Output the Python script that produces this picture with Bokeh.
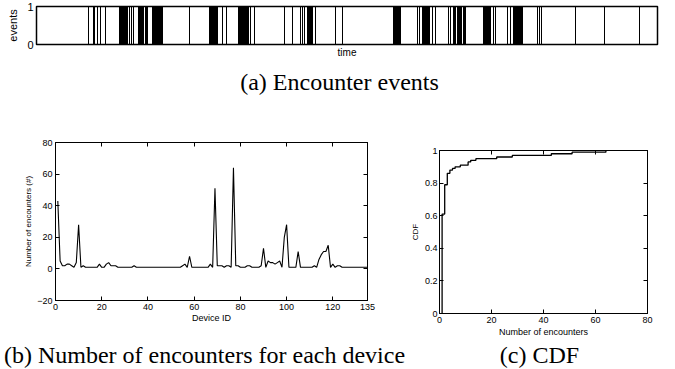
from bokeh.plotting import figure
from bokeh.models import FixedTicker, LinearAxis, Range1d, Label
from bokeh.layouts import column, row
from bokeh.embed import file_html
from bokeh.resources import INLINE

# ---------------- data ----------------
# (a) encounter event times (arbitrary time units)
event_times = [52, 57, 58, 61, 64, 69,
               83, 84, 85, 86, 87, 88, 89, 90, 91, 93, 95, 97,
               102, 103, 104, 105, 106, 107, 109, 110, 111,
               116, 117, 118, 119, 120, 121, 122, 123, 124, 125, 126,
               153,
               173, 174, 175, 176, 177, 178, 179, 180, 181, 186, 190,
               202, 203, 204, 205, 206, 207, 208, 209, 210, 211, 212, 214, 218,
               248, 256, 264, 266, 268, 271, 272, 273, 274, 275, 276, 279,
               299, 306,
               357, 358, 359, 360, 361, 362, 363, 364,
               381, 383, 386, 387, 388, 389, 390, 391, 392, 393, 396, 399,
               412, 414, 417, 418, 419, 421, 422, 423, 424, 425, 427, 428, 429,
               447, 448, 449, 450, 451, 452, 453, 454, 457, 459,
               471, 474, 477, 478, 479, 480, 481, 482, 483, 484, 485, 486,
               501, 503, 505, 539, 568, 603]

# (b) number of encounters for each device (IDs 1..135)
device_ids = list(range(1, 136))
encounters = [43, 5, 2, 2, 3, 3, 2, 1, 4, 28,
              1, 2, 1, 1, 1, 1, 1, 1, 3, 1,
              1, 3, 4, 2, 2, 2, 1, 1, 1, 1,
              1, 1, 1, 2, 1, 1, 1, 1, 1, 1,
              1, 1, 1, 1, 1, 1, 1, 1, 1, 1,
              1, 1, 1, 1, 2, 3, 1, 8, 1, 1,
              1, 1, 1, 1, 1, 1, 3, 1, 51, 2,
              2, 2, 1, 2, 2, 1, 64, 2, 2, 1,
              1, 1, 2, 2, 1, 1, 1, 1, 2, 13,
              1, 5, 4, 4, 3, 4, 5, 1, 20, 28,
              1, 1, 1, 1, 11, 1, 1, 1, 1, 1,
              1, 2, 1, 6, 9, 11, 11, 15, 1, 3,
              1, 2, 2, 1, 1, 1, 1, 1, 1, 1,
              1, 1, 1, 1, 1]

# (c) CDF of number of encounters
cdf_x = [1, 1, 2, 3, 4, 5, 6, 8, 11, 12, 14, 22, 28, 43, 51, 64]
cdf_y = [0, 0.61, 0.79, 0.86, 0.88, 0.89, 0.90, 0.91, 0.93, 0.94, 0.95, 0.96,
         0.97, 0.98, 0.99, 1.0]

b_xticks = [0, 20, 40, 60, 80, 100, 120, 135]
b_yticks = [-20, 0, 20, 40, 60, 80]
c_xticks = [0, 20, 40, 60, 80]
c_yticks = [0, 0.2, 0.4, 0.6, 0.8, 1]
c_ylabels = {0: "0", 0.2: "0.2", 0.4: "0.4", 0.6: "0.6", 0.8: "0.8", 1: "1"}

captions = ["(a) Encounter events",
            "(b) Number of encounters for each device",
            "(c) CDF"]

SANS = "Liberation Sans"
SERIF = "Liberation Serif"


def base_fig(width, height, xr, yr, left, right, top, bottom):
    p = figure(width=width, height=height, x_range=Range1d(*xr), y_range=Range1d(*yr),
               output_backend="svg", toolbar_location=None, frame_align=False,
               min_border_left=left, min_border_right=right,
               min_border_top=top, min_border_bottom=bottom)
    p.xgrid.visible = False
    p.ygrid.visible = False
    p.outline_line_color = "black"
    p.outline_line_width = 1
    p.background_fill_color = "white"
    p.border_fill_color = "white"
    return p


def style_axis(ax, size, label_size=None):
    ax.axis_line_color = "black"
    ax.axis_line_width = 1
    ax.major_tick_line_color = "black"
    ax.major_tick_in = 4
    ax.major_tick_out = 0
    ax.minor_tick_line_color = None
    ax.major_label_text_font = SANS
    ax.major_label_text_font_size = size
    ax.major_label_text_color = "black"
    ax.major_label_standoff = 3
    ax.axis_label_text_font = SANS
    ax.axis_label_text_font_style = "normal"
    ax.axis_label_text_color = "black"
    ax.axis_label_text_font_size = label_size or size


def mirror(p, xticks, yticks):
    top = LinearAxis(ticker=FixedTicker(ticks=xticks))
    right = LinearAxis(ticker=FixedTicker(ticks=yticks))
    for ax in (top, right):
        style_axis(ax, "9px")
        ax.major_label_text_color = None
        ax.major_label_standoff = 0
    p.add_layout(top, "above")
    p.add_layout(right, "right")


def caption_fig(width, height, text, cx, cy):
    p = figure(width=width, height=height, x_range=Range1d(0, 1), y_range=Range1d(0, 1),
               x_axis_type=None, y_axis_type=None, output_backend="svg",
               toolbar_location=None, min_border=0, frame_align=False)
    p.outline_line_color = None
    p.xgrid.visible = False
    p.ygrid.visible = False
    p.add_layout(Label(x=cx, y=cy, x_units="screen", y_units="screen", text=text,
                       text_align="center", text_baseline="middle",
                       text_font=SERIF, text_font_size="24px", text_color="black"))
    return p


# ---------------- (a) events strip ----------------
pa = base_fig(675, 60, (0, 621), (0, 1), 36, 18, 6, 16)
pa.segment(x0=event_times, y0=0, x1=event_times, y1=1, line_color="black", line_width=1)
style_axis(pa.xaxis[0], "10px", "10px")
pa.xaxis[0].ticker = FixedTicker(ticks=[])
pa.xaxis[0].major_tick_in = 0
pa.xaxis[0].major_label_standoff = 0
pa.xaxis[0].axis_label = "time"
pa.xaxis[0].axis_label_standoff = 2
style_axis(pa.yaxis[0], "11px", "11px")
pa.yaxis[0].ticker = FixedTicker(ticks=[0, 1])
pa.yaxis[0].major_tick_in = 0
pa.yaxis[0].axis_label = "events"
pa.yaxis[0].axis_label_standoff = 5
pa.outline_line_width = 1.5
cap_a = caption_fig(675, 45, captions[0], 339, 24)

# ---------------- (b) encounters per device ----------------
pb = base_fig(404, 236, (0, 135), (-20, 80), 55, 37, 37, 41)
pb.line(device_ids, encounters, line_color="black", line_width=1.1)
style_axis(pb.xaxis[0], "9px", "9px")
pb.xaxis[0].ticker = FixedTicker(ticks=b_xticks)
pb.xaxis[0].axis_label = "Device ID"
pb.xaxis[0].axis_label_standoff = 0
style_axis(pb.yaxis[0], "9px", "8px")
pb.yaxis[0].ticker = FixedTicker(ticks=b_yticks)
pb.yaxis[0].major_label_overrides = {-20: "\u221220"}
pb.yaxis[0].axis_label = "Number of encounters (#)"
pb.yaxis[0].axis_label_standoff = 1
mirror(pb, b_xticks, b_yticks)
cap_b = caption_fig(406, 28, captions[1], 204, 15)

# ---------------- (c) CDF ----------------
pc = base_fig(271, 236, (0, 80), (0, 1), 35, 28, 45, 28)
pc.step(cdf_x, cdf_y, mode="after", line_color="black", line_width=1.3)
style_axis(pc.xaxis[0], "9px", "9px")
pc.xaxis[0].ticker = FixedTicker(ticks=c_xticks)
pc.xaxis[0].axis_label = "Number of encounters"
pc.xaxis[0].axis_label_standoff = 1
style_axis(pc.yaxis[0], "9px", "8px")
pc.yaxis[0].ticker = FixedTicker(ticks=c_yticks)
pc.yaxis[0].major_label_overrides = c_ylabels
pc.yaxis[0].major_label_standoff = 2
pc.yaxis[0].axis_label = "CDF"
pc.yaxis[0].axis_label_standoff = 2
mirror(pc, c_xticks, c_yticks)
cap_c = caption_fig(269, 28, captions[2], 133, 15)

layout = column(pa, cap_a, row(pb, pc), row(cap_b, cap_c))

open("out.html", "w").write(file_html(layout, INLINE))
